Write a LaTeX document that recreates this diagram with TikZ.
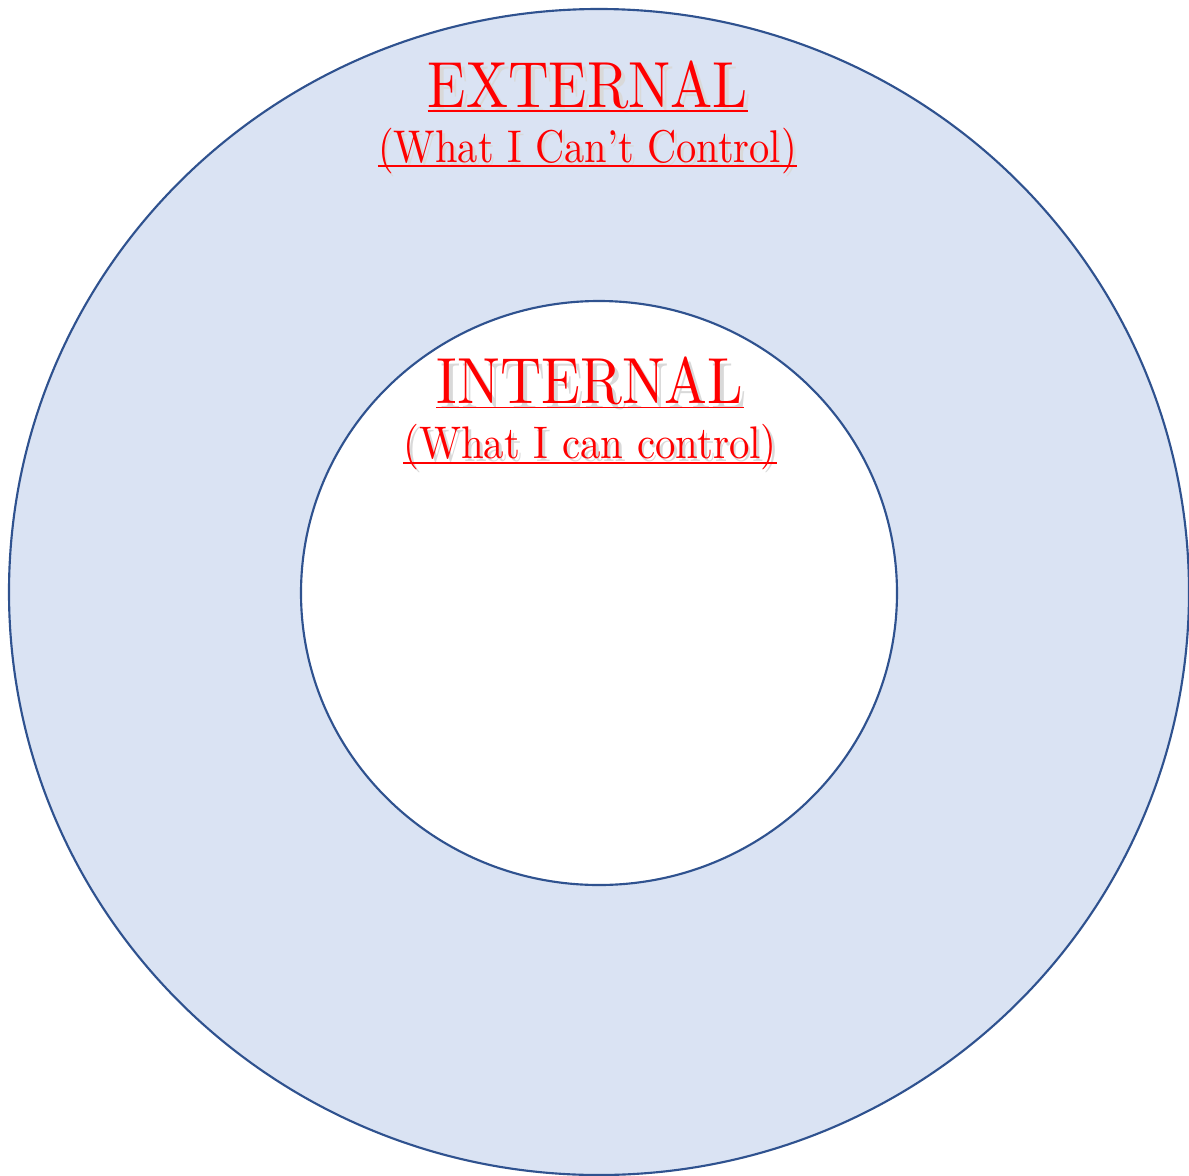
\documentclass[tikz,border=0pt]{standalone}
\usepackage{graphicx}
\definecolor{ringfill}{HTML}{DAE3F3}
\definecolor{ringline}{HTML}{2F528F}
\definecolor{txtred}{HTML}{FF0000}
\newcommand\shtxt[1]{\makebox[0pt][l]{\hspace{0.7pt}\raisebox{-0.7pt}{\color{black!15}#1}}#1}
\tikzset{
  ring/.style={draw=ringline, line width=1.6pt},
  lbl/.style={text=txtred, inner sep=0pt, anchor=base},
  uline/.style={draw=txtred, line width=1.4pt}
}
\begin{document}
\begin{tikzpicture}[x=0.75pt,y=-0.75pt]
\useasboundingbox (0,0) rectangle (1189,1175);
\draw[ring, fill=ringfill] (599,592) ellipse [x radius=590, y radius=583];
\draw[ring, fill=white] (599,593) ellipse [x radius=298, y radius=292];
\node[lbl] (ext) at (588,107) {\resizebox{240pt}{35pt}{\shtxt{EXTERNAL}}};
\node[lbl] (extsub) at (587.5,162) {\resizebox{314pt}{25.8pt}{\shtxt{(What I Can’t Control)}}};
\node[lbl] (int) at (590,403.5) {\resizebox{230pt}{35pt}{\shtxt{INTERNAL}}};
\node[lbl] (intsub) at (590,458.5) {\resizebox{280pt}{25.7pt}{\shtxt{(What I can control)}}};
\draw[uline] ([yshift=-3pt]ext.base west) -- ([yshift=-3pt]ext.base east);
\draw[uline] ([yshift=-3.2pt]extsub.base west) -- ([yshift=-3.2pt]extsub.base east);
\draw[uline] ([yshift=-3pt]int.base west) -- ([yshift=-3pt]int.base east);
\draw[uline] ([yshift=-3.2pt]intsub.base west) -- ([yshift=-3.2pt]intsub.base east);
\end{tikzpicture}
\end{document}
